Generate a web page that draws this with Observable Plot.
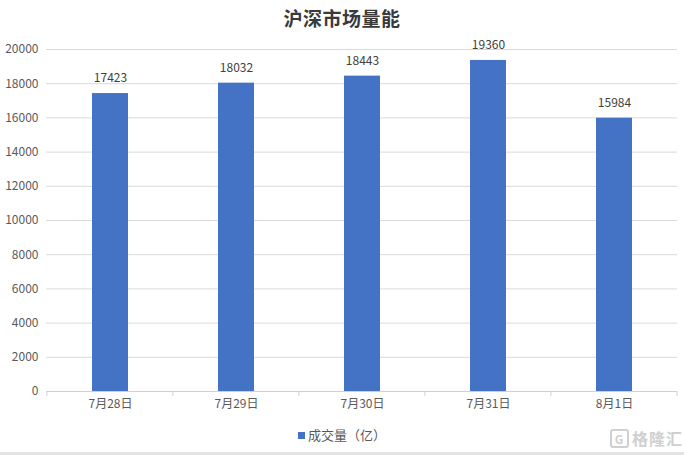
<!DOCTYPE html>
<html>
<head>
<meta charset="utf-8">
<script src="https://cdn.jsdelivr.net/npm/d3@7"></script>
<script src="https://cdn.jsdelivr.net/npm/@observablehq/plot@0.6"></script>
<style>
  html, body { margin: 0; padding: 0; background: #fff; }
  #wrap { position: relative; width: 684px; height: 455px; overflow: hidden; font-family: "Noto Sans CJK SC", "Noto Sans", sans-serif; }
  #title { position: absolute; top: 4px; left: 0; width: 684px; text-align: center; font-size: 19px; font-weight: bold; color: #3a3a3a; letter-spacing: 0.5px; }
  #legend { position: absolute; top: 425px; left: 0; width: 684px; text-align: center; font-size: 13px; color: #595959; }
  #legend .sw { display: inline-block; width: 7px; height: 7px; background: #4472C4; margin-right: 3px; vertical-align: 1px; }
  #wm { position: absolute; top: 426px; left: 610px; font-size: 16px; color: #cfcfcf; font-weight: bold; letter-spacing: 1px; }
  #wm .g { display: inline-block; width: 15px; height: 15px; border: 2px solid #d0d0d0; border-radius: 3px; font-size: 12px; line-height: 15px; text-align: center; margin-right: 3px; vertical-align: 1px; }
  #bottomline { position: absolute; left: 0; top: 452px; width: 684px; height: 3px; background: #e3e3e3; }
  #chart { position: absolute; top: 0; left: 0; }
</style>
</head>
<body>
<div id="wrap">
  <div id="chart"></div>
  <div id="title">沪深市场量能</div>
  <div id="legend"><span class="sw"></span>成交量（亿）</div>
  <div id="wm"><span class="g">G</span>格隆汇</div>
  <div id="bottomline"></div>
</div>
<script>
const categories = ["7月28日", "7月29日", "7月30日", "7月31日", "8月1日"];
const volumes = [17423, 18032, 18443, 19360, 15984];
const yTicks = [0, 2000, 4000, 6000, 8000, 10000, 12000, 14000, 16000, 18000, 20000];

const data = categories.map((c, i) => ({date: c, value: volumes[i]}));

function boundaryTicks(index, scales, values, dims) {
  const g = d3.create("svg:g");
  const x = scales.x;
  const y = scales.y;
  const y0 = y(0);
  const bw = x.bandwidth ? x.bandwidth() : 0;
  const stepPx = (dims.width - dims.marginLeft - dims.marginRight) / categories.length;
  const positions = [];
  categories.forEach((c, i) => positions.push(x(c) + bw / 2 - stepPx / 2));
  positions.push(x(categories[categories.length - 1]) + bw / 2 + stepPx / 2);
  positions.forEach(px => {
    g.append("line")
      .attr("x1", px).attr("x2", px)
      .attr("y1", y0).attr("y2", y0 + 5)
      .attr("stroke", "#d0d0d0");
  });
  return g.node();
}

const chart = Plot.plot({
  width: 684,
  height: 420,
  marginTop: 49,
  marginBottom: 29,
  marginLeft: 46,
  marginRight: 7,
  style: { fontFamily: "'Noto Sans CJK SC', 'Noto Sans', sans-serif", fontSize: "12px", color: "#595959", background: "transparent" },
  x: { domain: categories, paddingInner: 0.715, paddingOuter: 0.3575, label: null },
  y: { domain: [0, 20000], label: null },
  marks: [
    Plot.gridY(yTicks, { stroke: "#d9d9d9", strokeOpacity: 1 }),
    Plot.axisY(yTicks, { tickSize: 0, tickPadding: 8, tickFormat: d => String(d), fontSize: 12, fill: "#595959", label: null }),
    Plot.axisX({ tickSize: 0, tickPadding: 8, fontSize: 12, fill: "#595959", label: null }),
    Plot.barY(data, { x: "date", y: "value", fill: "#4472C4" }),
    Plot.ruleY([0], { stroke: "#d0d0d0" }),
    boundaryTicks,
    Plot.text(data, { x: "date", y: "value", text: d => String(d.value), dy: -15, fill: "#404040", fontSize: 12, lineAnchor: "middle" })
  ]
});
document.getElementById("chart").appendChild(chart);
</script>
</body>
</html>
